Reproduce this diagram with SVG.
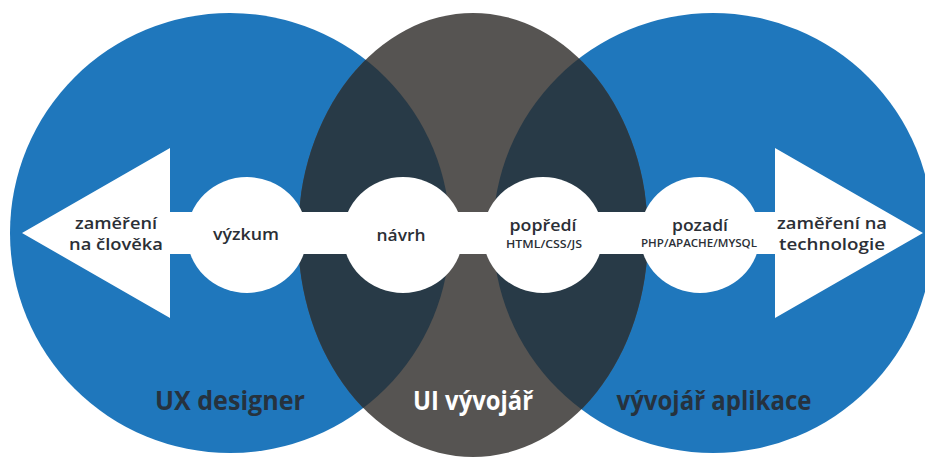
<svg xmlns="http://www.w3.org/2000/svg" width="925" height="459" viewBox="0 0 925 459">
<style>
.blue{fill:#1f77bc}
.gray{fill:#565452}
.dark{fill:#283a47}
.white{fill:#ffffff}
.lbl{font-family:"Open Sans","Noto Sans","DejaVu Sans",sans-serif;font-weight:600;fill:#2b2f36;text-anchor:middle}
.t17{font-size:17px}
.t11{font-size:10px}
.big{font-size:27px;font-weight:700;fill:#26323e}
.inv{fill:#ffffff}
</style>
<defs>
<clipPath id="clipL"><circle cx="230" cy="233" r="220"/></clipPath>
<clipPath id="clipR"><circle cx="713" cy="233" r="220"/></clipPath>
<ellipse id="uiShape" cx="473" cy="235" rx="175" ry="222"/>
</defs>
<rect width="925" height="459" fill="#ffffff"/>
<g id="ux-designer">
<circle class="blue" cx="230" cy="233" r="220"/>
</g>
<g id="app-developer">
<circle class="blue" cx="713" cy="233" r="220"/>
</g>
<g id="ui-developer">
<use href="#uiShape" class="gray"/>
<use href="#uiShape" class="dark" clip-path="url(#clipL)"/>
<use href="#uiShape" class="dark" clip-path="url(#clipR)"/>
</g>
<g id="connectors">
<polygon class="white" points="22,233 170,148 170,212 775,212 775,148 923,233 775,318 775,254 170,254 170,318"/>
</g>
<g id="focus-human">
<text class="lbl t17" x="116" y="229" textLength="82" lengthAdjust="spacingAndGlyphs">zaměření</text>
<text class="lbl t17" x="116" y="250" textLength="94" lengthAdjust="spacingAndGlyphs">na člověka</text>
</g>
<g id="research">
<ellipse class="white" cx="247" cy="235" rx="60" ry="58"/>
<text class="lbl t17" x="246" y="240" textLength="66" lengthAdjust="spacingAndGlyphs">výzkum</text>
</g>
<g id="design">
<ellipse class="white" cx="403" cy="235" rx="60" ry="58"/>
<text class="lbl t17" x="401" y="241" textLength="49" lengthAdjust="spacingAndGlyphs">návrh</text>
</g>
<g id="frontend">
<ellipse class="white" cx="543" cy="235" rx="60" ry="58"/>
<text class="lbl t17" x="543" y="231" textLength="67" lengthAdjust="spacingAndGlyphs">popředí</text>
<text class="lbl t11" x="544" y="248" textLength="76" lengthAdjust="spacingAndGlyphs">HTML/CSS/JS</text>
</g>
<g id="backend">
<ellipse class="white" cx="700" cy="235" rx="60" ry="58"/>
<text class="lbl t17" x="700" y="231" textLength="56" lengthAdjust="spacingAndGlyphs">pozadí</text>
<text class="lbl t11" x="699" y="247" textLength="116" lengthAdjust="spacingAndGlyphs">PHP/APACHE/MYSQL</text>
</g>
<g id="focus-tech">
<text class="lbl t17" x="832" y="229" textLength="110" lengthAdjust="spacingAndGlyphs">zaměření na</text>
<text class="lbl t17" x="832" y="250" textLength="106" lengthAdjust="spacingAndGlyphs">technologie</text>
</g>
<g id="labels">
<text class="lbl big" x="230" y="410" textLength="150" lengthAdjust="spacingAndGlyphs">UX designer</text>
<text class="lbl big inv" x="473" y="410" textLength="120" lengthAdjust="spacingAndGlyphs">UI vývojář</text>
<text class="lbl big" x="714" y="410" textLength="195" lengthAdjust="spacingAndGlyphs">vývojář aplikace</text>
</g>
</svg>
